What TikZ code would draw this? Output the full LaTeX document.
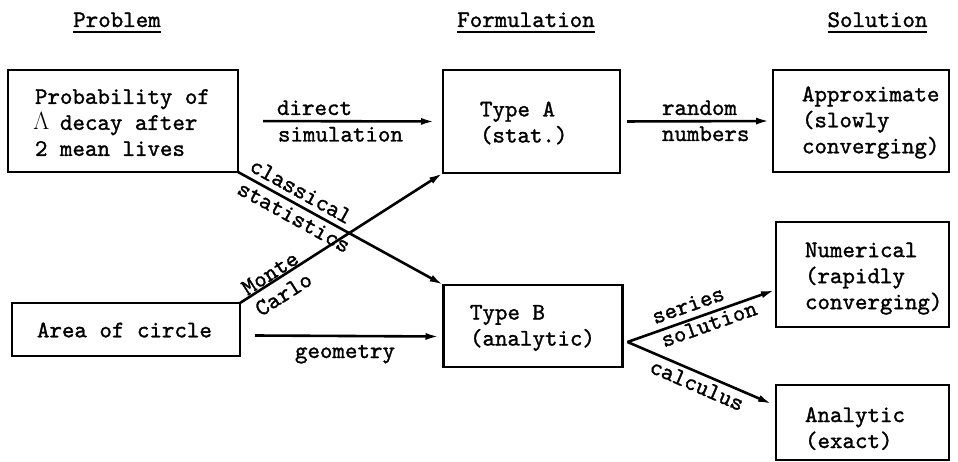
\documentclass[tikz,border=0pt]{standalone}
\usepackage{fontspec}
\newfontfamily\twfont{lmmono10-regular.otf}[FakeBold=1.3]
\usetikzlibrary{arrows.meta}
\begin{document}
\begin{tikzpicture}[x=1pt,y=-1pt,
  every node/.style={inner sep=0pt, outer sep=0pt},
  tt/.style={font=\fontsize{23.8}{26}\selectfont\twfont},
  box/.style={draw, line width=2.2pt, inner sep=0pt},
  txt/.style={tt, align=left, anchor=west},
  lab/.style={tt, anchor=base west},
  slab/.style={tt, anchor=center},
  arr/.style={line width=2.6pt, -{Latex[length=14pt,width=7pt]}},
  head/.style={tt, anchor=base},
  uline/.style={line width=2.4pt}]
\useasboundingbox (0,0) rectangle (958,462);

% headers
\node[head] (h1) at (117,27) {Problem};
\node[head] (h2) at (526,27) {Formulation};
\node[head] (h3) at (877.5,27) {Solution};
\foreach \h in {h1,h2,h3}
  \draw[uline] ([yshift=-5pt]\h.base west) -- ([yshift=-5pt]\h.base east);

% boxes
\node[box, minimum width=230pt, minimum height=102pt] (p) at (123,121) {};
\node[box, minimum width=177pt, minimum height=103pt] (ta) at (531.5,121.5) {};
\node[box, minimum width=176pt, minimum height=102pt] (ap) at (861,121) {};
\node[box, minimum width=228pt, minimum height=53pt] (ar) at (126,329.5) {};
\node[box, minimum width=179pt, minimum height=82pt] (tb) at (533,326) {};
\node[box, minimum width=173pt, minimum height=105pt] (nu) at (862.5,274.5) {};
\node[box, minimum width=173pt, minimum height=75pt] (an) at (862.5,422.5) {};

% box texts
\node[txt] (pt) at (35,122.6) {Probability of\\\makebox[0.525em]{$\Lambda$} decay after\\2 mean lives};
\node[txt] (tat) at (480,123) {Type A\\(stat.)};
\node[txt] (apt) at (802,122.6) {Approximate\\(slowly\\converging)};
\node[txt] (art) at (37,330) {Area of circle};
\node[txt] (tbt) at (470,328) {Type B\\(analytic)};
\node[txt] (nut) at (805,278.6) {Numerical\\(rapidly\\converging)};
\node[txt] (ant) at (805,428.6) {Analytic\\(exact)};

% straight connectors
\draw[arr, shorten <=25pt, shorten >=8pt] (p.east) -- (ta.west);
\node[lab] (l1) at (277,115) {direct};
\node[lab] (l2) at (278,141.5) {simulation};

\draw[arr, shorten <=7pt, shorten >=3pt] (ta.east) -- (ap.west);
\node[lab] (l3) at (662,115) {random};
\node[lab] (l4) at (662,141) {numbers};

\draw[arr] ([shift={(15,6)}]ar.east) -- ([shift={(-4,10.5)}]tb.west);
\node[lab] (l5) at (295,358) {geometry};

% crossing connectors
\draw[arr] (p.south east) -- (tb.north west);
\node[slab, rotate=-28.9] (l6) at (301,191) {classical};
\node[slab, rotate=-28.9] (l7) at (294,217) {statistics};

\draw[arr] (ar.north east) -- (ta.south west);
\node[slab, rotate=32.6] (l8) at (270,273) {Monte};
\node[slab, rotate=32.6] (l9) at (283.5,294) {Carlo};

% fork
\coordinate (fork) at ([shift={(5,16)}]tb.east);
\draw[arr] (fork) -- ([shift={(-1,15.5)}]nu.west);
\node[slab, rotate=19.5] (l10) at (688,305) {series};
\node[slab, rotate=19.5] (l11) at (709,324) {solution};
\draw[arr] (fork) -- ([shift={(-4,-18.5)}]an.west);
\node[slab, rotate=-23.3] (l12) at (697,385) {calculus};
\end{tikzpicture}
\end{document}
